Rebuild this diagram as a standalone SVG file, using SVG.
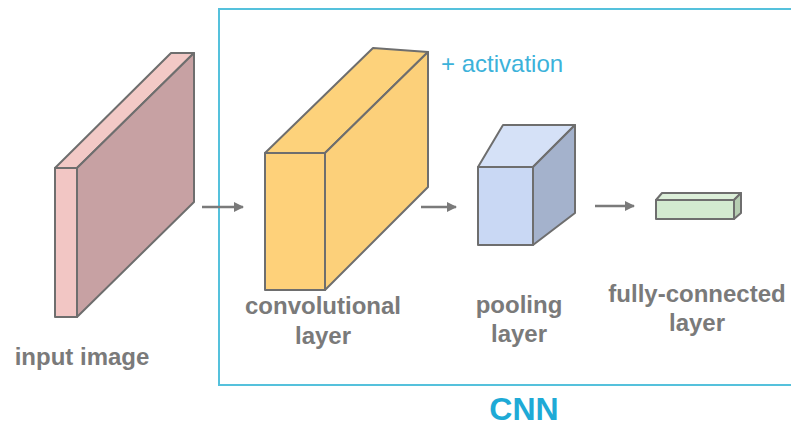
<svg xmlns="http://www.w3.org/2000/svg" width="791" height="429" viewBox="0 0 791 429">
  <style>
    .edge { stroke: #6e6e6e; stroke-width: 2; stroke-linejoin: round; }
    .lbl { font-family: "Liberation Sans", Arial, sans-serif; font-weight: bold; font-size: 24px; fill: #7a7a7a; text-anchor: middle; }
    .link { stroke: #7a7a7a; stroke-width: 2.5; fill: none; marker-end: url(#head); }
  </style>
  <defs>
    <marker id="head" viewBox="0 0 10 10" refX="9" refY="5" markerWidth="4" markerHeight="4" orient="auto" markerUnits="strokeWidth">
      <path d="M0,0 L10,5 L0,10 Z" fill="#7a7a7a"/>
    </marker>
  </defs>
  <rect width="791" height="429" fill="#ffffff"/>

  <!-- CNN frame -->
  <g id="cnn-frame">
    <rect x="219" y="9" width="600" height="376" fill="none" stroke="#55c1dc" stroke-width="2"/>
    <text x="524" y="420" font-family="Liberation Sans, Arial, sans-serif" font-weight="bold" font-size="32" fill="#1eaad6" text-anchor="middle">CNN</text>
  </g>

  <!-- input image slab -->
  <g id="input-image">
    <polygon class="edge" points="55,168 77,168 194,53 171,53" fill="#f2c9c6"/>
    <polygon class="edge" points="77,168 194,53 194,202 77,317" fill="#c7a1a3"/>
    <rect class="edge" x="55" y="168" width="22" height="149" fill="#f2c6c4"/>
    <text class="lbl" x="82" y="365">input image</text>
  </g>

  <!-- convolutional layer block -->
  <g id="conv-layer">
    <polygon class="edge" points="265,153 325,153 428,52 373,48" fill="#fdd27b"/>
    <polygon class="edge" points="325,153 428,52 428,187 325,290" fill="#fcd07a"/>
    <rect class="edge" x="265" y="153" width="60" height="137" fill="#fed17a"/>
    <text class="lbl" x="323" y="314">convolutional</text>
    <text class="lbl" x="323" y="344">layer</text>
    <text x="441" y="72" font-family="Liberation Sans, Arial, sans-serif" font-size="24" fill="#3cb2da">+ activation</text>
  </g>

  <!-- pooling layer block -->
  <g id="pooling-layer">
    <polygon class="edge" points="478,167 533,167 575,125 503,125" fill="#d5e1f7"/>
    <polygon class="edge" points="533,167 575,125 575,213 533,245" fill="#a4b2cc"/>
    <rect class="edge" x="478" y="167" width="55" height="78" fill="#c9d8f4"/>
    <text class="lbl" x="519" y="313">pooling</text>
    <text class="lbl" x="519" y="342">layer</text>
  </g>

  <!-- fully-connected layer block -->
  <g id="fc-layer">
    <polygon class="edge" points="656,200 734,200 741,193 662,193" fill="#dcefd9"/>
    <polygon class="edge" points="734,200 741,193 741,213 734,219" fill="#b6cdb2"/>
    <rect class="edge" x="656" y="200" width="78" height="19" fill="#d3ead0"/>
    <text class="lbl" x="697" y="302">fully-connected</text>
    <text class="lbl" x="697" y="331">layer</text>
  </g>

  <!-- connectors -->
  <g id="connectors">
    <line class="link" x1="202" y1="207" x2="243" y2="207"/>
    <line class="link" x1="421" y1="207" x2="456" y2="207"/>
    <line class="link" x1="595" y1="206" x2="634" y2="206"/>
  </g>
</svg>
